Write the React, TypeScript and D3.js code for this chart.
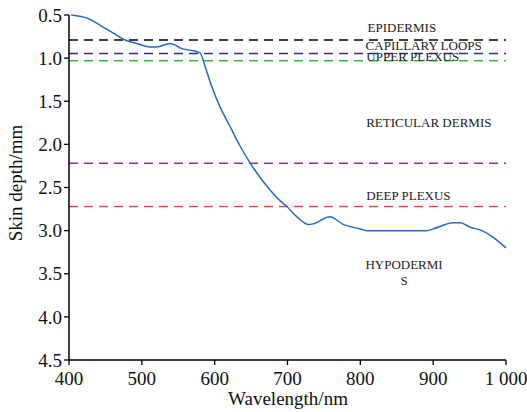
import React from "react";
import * as d3 from "d3";

const wavelengths = [403, 426, 443, 461, 477, 493, 511, 520, 539, 555, 568, 580, 587, 596, 607, 621, 633, 649, 676, 688, 699, 713, 729, 736, 758, 777, 800, 809, 891, 900, 928, 937, 951, 967, 983, 1000];
const depths = [0.5, 0.54, 0.62, 0.71, 0.79, 0.83, 0.87, 0.87, 0.83, 0.89, 0.91, 0.94, 1.1, 1.33, 1.56, 1.79, 1.99, 2.22, 2.53, 2.64, 2.72, 2.84, 2.93, 2.92, 2.84, 2.93, 2.98, 3.0, 3.0, 2.98, 2.91, 2.91, 2.96, 3.0, 3.08, 3.2];

const boundaryDepths = [0.79, 0.945, 1.03, 2.22, 2.72];
const boundaryColors = ["#000000", "#2b2b9a", "#2fbf3a", "#9b2f8f", "#f04848"];

const layerNames = ["EPIDERMIS", "CAPILLARY LOOPS", "UPPER PLEXUS", "RETICULAR DERMIS", "DEEP PLEXUS", "HYPODERMI", "S"];
const layerWave = [857, 887, 872, 894, 866, 860, 860];
const layerDepth = [0.7, 0.9, 1.035, 1.8, 2.65, 3.45, 3.63];

const xTicks = [400, 500, 600, 700, 800, 900, 1000];
const yTicks = [0.5, 1.0, 1.5, 2.0, 2.5, 3.0, 3.5, 4.0, 4.5];

const W = 527, H = 412;
const left = 69, right = 506, top = 15, bottom = 360;
const font = "'Liberation Serif', 'Times New Roman', serif";

export default function App() {
  const x = d3.scaleLinear().domain([400, 1000]).range([left, right]);
  const y = d3.scaleLinear().domain([0.5, 4.5]).range([top, bottom]);
  const pts = wavelengths.map((w, i) => [w, depths[i]] as [number, number]);
  const line = d3.line<[number, number]>().x(d => x(d[0])).y(d => y(d[1])).curve(d3.curveMonotoneX);
  const fmtX = (v: number) => (v >= 1000 ? "1 000" : String(v));

  return (
    <svg width={W} height={H} style={{ position: "absolute", left: 0, top: 0, background: "#fff" }} fontFamily={font}>
      <rect width={W} height={H} fill="#fff" />
      {boundaryDepths.map((d, i) => (
        <line key={i} x1={x(400)} x2={x(1000)} y1={y(d)} y2={y(d)} stroke={boundaryColors[i]} strokeWidth={1.5} strokeDasharray="9,6" />
      ))}
      <path d={line(pts) || ""} fill="none" stroke="#1f6ec2" strokeWidth={1.5} />
      {layerNames.map((n, i) => (
        <text key={i} x={x(layerWave[i])} y={y(layerDepth[i])} textAnchor="middle" fontSize={13} fill="#222">{n}</text>
      ))}
      <line x1={left} x2={left} y1={top} y2={bottom} stroke="#000" strokeWidth={1.5} />
      <line x1={left} x2={right} y1={bottom} y2={bottom} stroke="#000" strokeWidth={1.5} />
      {yTicks.map(t => (
        <g key={t}>
          <line x1={left - 5} x2={left} y1={y(t)} y2={y(t)} stroke="#000" strokeWidth={1.3} />
          <text x={left - 7} y={y(t)} dy="0.35em" textAnchor="end" fontSize={19} fill="#111">{t.toFixed(1)}</text>
        </g>
      ))}
      {xTicks.map(t => (
        <g key={t}>
          <line x1={x(t)} x2={x(t)} y1={bottom} y2={bottom + 5} stroke="#000" strokeWidth={1.3} />
          <text x={x(t)} y={385} textAnchor="middle" fontSize={19} fill="#111">{fmtX(t)}</text>
        </g>
      ))}
      <text x={288} y={405} textAnchor="middle" fontSize={19} fill="#111">Wavelength/nm</text>
      <text transform={`translate(22,183) rotate(-90)`} textAnchor="middle" fontSize={19} fill="#111">Skin depth/mm</text>
    </svg>
  );
}
